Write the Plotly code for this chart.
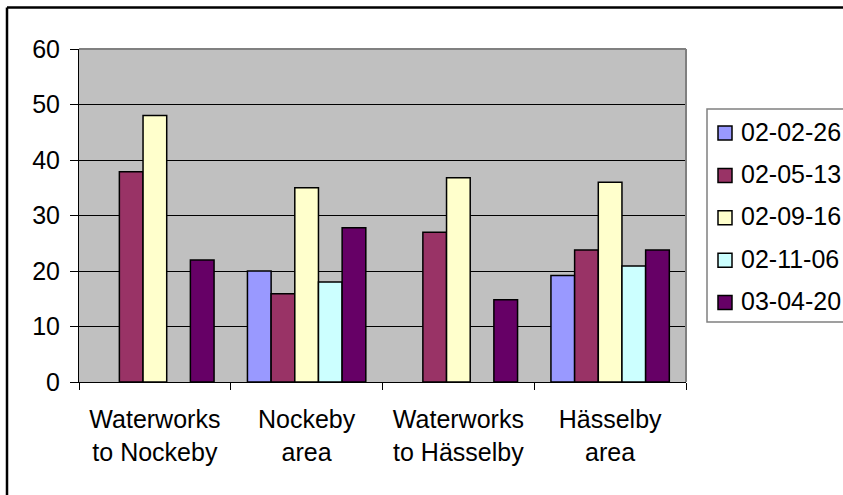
import plotly.graph_objects as go

categories = ["Waterworks<br>to Nockeby", "Nockeby<br>area", "Waterworks<br>to Hässelby", "Hässelby<br>area"]
series_names = ["02-02-26", "02-05-13", "02-09-16", "02-11-06", "03-04-20"]
s_020226 = [None, 20, None, 19.2]
s_020513 = [37.9, 15.9, 27.0, 23.8]
s_020916 = [48.0, 35.0, 36.8, 36.0]
s_021106 = [None, 18.0, None, 20.9]
s_030420 = [22.0, 27.8, 14.8, 23.8]
series_values = [s_020226, s_020513, s_020916, s_021106, s_030420]
colors = ["#9999FF", "#993366", "#FFFFCC", "#CCFFFF", "#660066"]
y_ticks = [0, 10, 20, 30, 40, 50, 60]

W, H = 843, 495
ML, MR, MT, MB = 79, 157, 49, 113
PW, PH = W - ML - MR, H - MT - MB

def px(x):
    return (x - ML) / PW

def py(y):
    return (H - MB - y) / PH

FONT = "Liberation Sans, Arial, sans-serif"
FS = 25

fig = go.Figure()
for name, vals, col in zip(series_names, series_values, colors):
    fig.add_trace(go.Bar(
        x=categories, y=vals, name=name,
        marker=dict(color=col, line=dict(color="black", width=1.5)),
        showlegend=False,
    ))

shapes = []
annotations = []
# plot area top/right border (grey)
shapes.append(dict(type="line", xref="paper", yref="paper", x0=0, x1=1, y0=1, y1=1,
                   line=dict(color="#808080", width=2), layer="above"))
shapes.append(dict(type="line", xref="paper", yref="paper", x0=1, x1=1, y0=0, y1=1,
                   line=dict(color="#808080", width=2), layer="above"))
# chart outer border
shapes.append(dict(type="line", xref="paper", yref="paper", x0=px(7), x1=px(850), y0=py(7.5), y1=py(7.5),
                   line=dict(color="black", width=2.5), layer="above"))
shapes.append(dict(type="line", xref="paper", yref="paper", x0=px(7), x1=px(7), y0=py(7.5), y1=py(500),
                   line=dict(color="black", width=2.5), layer="above"))
# legend box
shapes.append(dict(type="rect", xref="paper", yref="paper", x0=px(707), x1=px(860), y0=py(109), y1=py(322),
                   line=dict(color="#808080", width=1.5), fillcolor="white", layer="above"))
row0, step = 131.5, 42.4
for i, (name, col) in enumerate(zip(series_names, colors)):
    yc = row0 + i * step
    shapes.append(dict(type="rect", xref="paper", yref="paper",
                       x0=px(718), x1=px(732), y0=py(yc - 5.5), y1=py(yc + 8.5),
                       line=dict(color="black", width=1.5), fillcolor=col, layer="above"))
    annotations.append(dict(xref="paper", yref="paper", x=px(739), y=py(yc), text=name,
                            showarrow=False, xanchor="left", yanchor="middle",
                            font=dict(family=FONT, size=FS, color="black")))

fig.update_layout(
    width=W, height=H,
    margin=dict(l=ML, r=MR, t=MT, b=MB, autoexpand=False),
    paper_bgcolor="white", plot_bgcolor="#C0C0C0",
    barmode="group", bargap=0.22, bargroupgap=0,
    font=dict(family=FONT, size=FS, color="black"),
    shapes=shapes, annotations=annotations,
    xaxis=dict(type="category", showline=True, linecolor="black", linewidth=1,
               ticks="outside", tickson="boundaries", ticklen=7, tickcolor="black",
               showgrid=False, ticklabelstandoff=15,
               tickfont=dict(family=FONT, size=FS, color="black")),
    yaxis=dict(range=[0, 60], tickvals=y_ticks, showline=True, linecolor="black", linewidth=1,
               ticks="outside", ticklen=8, tickcolor="black",
               showgrid=True, gridcolor="black", gridwidth=1, zeroline=False,
               ticklabelstandoff=5,
               tickfont=dict(family=FONT, size=FS, color="black")),
)

fig.write_html("out.html")
